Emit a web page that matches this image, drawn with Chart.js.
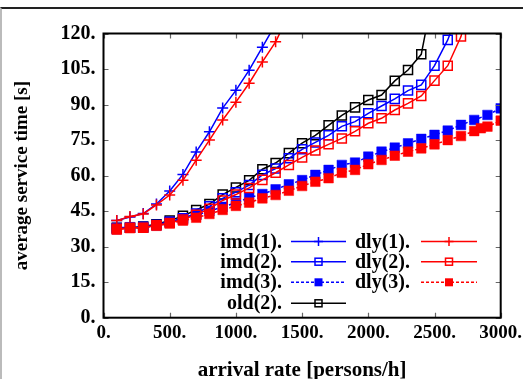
<!DOCTYPE html>
<html>
<head>
<meta charset="utf-8">
<script src="https://cdn.jsdelivr.net/npm/chart.js@4.4.1/dist/chart.umd.min.js"></script>
<style>
  html, body { margin: 0; padding: 0; background: #fff; }
  #wrap { position: relative; width: 523px; height: 379px; overflow: hidden; }
  #frame { position: absolute; left: 0; top: 7px; width: 523px; height: 372px;
           border-top: 2px solid #222; border-left: 2px solid #bbb; box-sizing: border-box; }
  canvas { position: absolute; left: 0; top: 0; }
</style>
</head>
<body>
<div id="wrap">
  <div id="frame"></div>
  <canvas id="chart" width="523" height="379"></canvas>
</div>
<script>
// arrival rate [persons/h]
const rates = [100, 200, 300, 400, 500, 600, 700, 800, 900, 1000,
  1100, 1200, 1300, 1400, 1500, 1600, 1700, 1800, 1900, 2000,
  2100, 2200, 2300, 2400, 2500, 2600, 2700, 2800, 2900, 3000];
const ratesDly3 = [100, 200, 300, 400, 500, 600, 700, 800, 900, 1000,
  1100, 1200, 1300, 1400, 1500, 1600, 1700, 1800, 1900, 2000,
  2100, 2200, 2300, 2400, 2500, 2600, 2700, 2800, 2850, 2900, 3000];

// average service time [s]
const imd1 = [41, 42.5, 44, 48, 53.5, 60.5, 70, 78.5, 88.5, 96, 104.5, 114.2, 124];
const dly1 = [41, 42.7, 43.8, 47.6, 51.8, 58, 66.5, 75, 83.5, 91, 99, 108, 116.5, 128];
const imd2 = [37.5, 38, 38, 39, 40.5, 42, 44, 47, 50.4, 53, 56, 60.3, 63, 67.3, 71.1,
  74, 77, 80.8, 82.8, 86.3, 89.4, 92.4, 95.9, 98.3, 106.4, 117.3, 132];
const dly2 = [37.5, 38, 38, 39, 40, 41.5, 43.5, 46, 49.5, 52, 54.8, 58.2, 61.2, 64.5, 67.7,
  70.6, 73.2, 75.7, 78.7, 82.1, 84.2, 87.7, 90.5, 93.6, 100.1, 106.4, 118.7, 140];
const imd3 = [38, 38.2, 38.5, 39.3, 40.5, 41.8, 43.3, 45, 46.8, 48.5, 50.7, 52.2, 54.2, 56.3, 58.1,
  60.3, 62.4, 64.5, 65.5, 68, 70.1, 71.8, 73.6, 75.5, 77.2, 79, 81.4, 83.5, 85.6, 88.4];
const dly3 = [37.2, 37.8, 38, 38.8, 39.8, 41, 42.2, 43.8, 45.5, 47.2, 48.6, 50.4, 51.8, 53.6, 55.6,
  57.4, 58.9, 61.2, 62.4, 64.8, 66.6, 68.4, 70.1, 71.5, 73.2, 75, 76.7, 78.8, 80, 80.7, 83.2];
const old2 = [38, 38, 38.5, 39.5, 41, 43, 45.5, 48, 52, 55, 58, 62.7, 65.3, 69.5, 73.7,
  77, 81.2, 85.4, 88.8, 91.9, 94, 100, 104.6, 111.2, 140];

const xTicks = [0, 500, 1000, 1500, 2000, 2500, 3000];
const yTicks = [0, 15, 30, 45, 60, 75, 90, 105, 120];

const BLUE = "#0000ff", RED = "#ff0000", BLACK = "#000000";
const FONT = "'Liberation Serif', 'Times New Roman', serif";

const pts = (xs, ys) => ys.map((v, i) => ({ x: xs[i], y: v }));

// legend entries: [label, colour, style, dashed, column, row]
const legendItems = [
  ["imd(1)", BLUE, "cross", false, 0, 0],
  ["imd(2)", BLUE, "open", false, 0, 1],
  ["imd(3)", BLUE, "filled", true, 0, 2],
  ["old(2)", BLACK, "open", false, 0, 3],
  ["dly(1)", RED, "cross", false, 1, 0],
  ["dly(2)", RED, "open", false, 1, 1],
  ["dly(3)", RED, "filled", true, 1, 2]
];

function series(label, data, color, style, dashed){
  const base = {
    label, data,
    borderColor: color,
    borderWidth: 1.5,
    borderDash: dashed ? [3, 2] : [],
    tension: 0,
    pointBorderColor: color,
    pointBorderWidth: 1.5,
    pointHoverRadius: 0
  };
  if (style === "cross"){
    base.pointStyle = "cross"; base.pointRadius = 5.5;
  } else if (style === "open"){
    base.pointStyle = "rect"; base.pointRadius = 6.4;
    base.pointBackgroundColor = "rgba(0,0,0,0)";
  } else {
    base.pointStyle = "rect"; base.pointRadius = 6.8;
    base.pointBackgroundColor = color; base.pointBorderWidth = 0.5;
  }
  return base;
}

function drawMarker(ctx, style, color, x, y){
  ctx.save();
  ctx.strokeStyle = color; ctx.fillStyle = color; ctx.lineWidth = 1.5; ctx.setLineDash([]);
  if (style === "cross"){
    ctx.beginPath();
    ctx.moveTo(x - 4.5, y); ctx.lineTo(x + 4.5, y);
    ctx.moveTo(x, y - 4.5); ctx.lineTo(x, y + 4.5);
    ctx.stroke();
  } else if (style === "open"){
    ctx.strokeRect(x - 3.5, y - 3.5, 7, 7);
  } else {
    ctx.fillRect(x - 4, y - 4, 8, 8);
  }
  ctx.restore();
}

const frameLegend = {
  id: "frameLegend",
  afterDatasetsDraw(chart){
    const { ctx, chartArea: a, scales: { x, y } } = chart;
    ctx.save();
    // inward ticks on all four sides
    ctx.strokeStyle = "#666"; ctx.lineWidth = 1.2;
    ctx.beginPath();
    yTicks.forEach(v => {
      const py = Math.round(y.getPixelForValue(v)) + 0.5;
      ctx.moveTo(a.left, py); ctx.lineTo(a.left + 5, py);
      ctx.moveTo(a.right, py); ctx.lineTo(a.right - 5, py);
    });
    xTicks.forEach(v => {
      const px = Math.round(x.getPixelForValue(v)) + 0.5;
      ctx.moveTo(px, a.bottom); ctx.lineTo(px, a.bottom - 5);
      ctx.moveTo(px, a.top); ctx.lineTo(px, a.top + 5);
    });
    ctx.stroke();
    // frame
    ctx.strokeStyle = "#000"; ctx.lineWidth = 2;
    ctx.strokeRect(a.left, a.top, a.right - a.left, a.bottom - a.top);

    // legend
    const rowsY = [241.5, 261.7, 282.3, 303.3];
    const textRight = [282, 410];
    const lineFrom = [291, 421];
    const lineTo = [346, 477];
    ctx.font = "bold 20px " + FONT;
    ctx.textAlign = "right"; ctx.textBaseline = "middle";
    legendItems.forEach(([label, color, style, dashed, col, row]) => {
      const ly = rowsY[row];
      ctx.fillStyle = "#000";
      ctx.fillText(label + ".", textRight[col], ly + 1);
      ctx.strokeStyle = color; ctx.lineWidth = 1.5;
      ctx.setLineDash(dashed ? [3, 2] : []);
      ctx.beginPath();
      ctx.moveTo(lineFrom[col], ly); ctx.lineTo(lineTo[col], ly);
      ctx.stroke();
      ctx.setLineDash([]);
      drawMarker(ctx, style, color, (lineFrom[col] + lineTo[col]) / 2, ly);
    });
    ctx.restore();
  }
};

new Chart(document.getElementById("chart"), {
  type: "line",
  data: {
    datasets: [
      series("dly(3)", pts(ratesDly3, dly3), RED, "filled", true),
      series("dly(2)", pts(rates, dly2), RED, "open", false),
      series("dly(1)", pts(rates, dly1), RED, "cross", false),
      series("imd(3)", pts(rates, imd3), BLUE, "filled", true),
      series("imd(2)", pts(rates, imd2), BLUE, "open", false),
      series("imd(1)", pts(rates, imd1), BLUE, "cross", false),
      series("old(2)", pts(rates, old2), BLACK, "open", false)
    ]
  },
  options: {
    responsive: false,
    animation: false,
    layout: { padding: { left: 0, right: 22.3, top: 33.5, bottom: 0 } },
    plugins: { legend: { display: false }, tooltip: { enabled: false } },
    scales: {
      x: {
        type: "linear", min: 0, max: 3000,
        afterBuildTicks: s => { s.ticks = xTicks.map(v => ({ value: v })); },
        afterFit: s => { s.height = 61.3; s.paddingLeft = 0; s.paddingRight = 0; },
        grid: { display: false, drawTicks: false },
        border: { display: false },
        ticks: { color: "#000", padding: 4, maxRotation: 0, font: { family: FONT, size: 19, weight: "bold" },
                 callback: v => v + "." },
        title: { display: true, text: "arrival rate [persons/h]", color: "#000",
                 padding: { top: 0, bottom: 0 }, font: { family: FONT, size: 21, weight: "bold", lineHeight: 0.8 } }
      },
      y: {
        type: "linear", min: 0, max: 120,
        afterBuildTicks: s => { s.ticks = yTicks.map(v => ({ value: v })); },
        afterFit: s => { s.width = 103.5; s.paddingTop = 0; s.paddingBottom = 0; },
        grid: { display: false, drawTicks: false },
        border: { display: false },
        ticks: { color: "#000", padding: 8, font: { family: FONT, size: 20, weight: "bold" },
                 callback: v => v + "." },
        title: { display: true, text: "average service time [s]", color: "#000",
                 padding: { top: 12, bottom: 0 }, font: { family: FONT, size: 19, weight: "bold", lineHeight: 1.1 } }
      }
    }
  },
  plugins: [frameLegend]
});
</script>
</body>
</html>
